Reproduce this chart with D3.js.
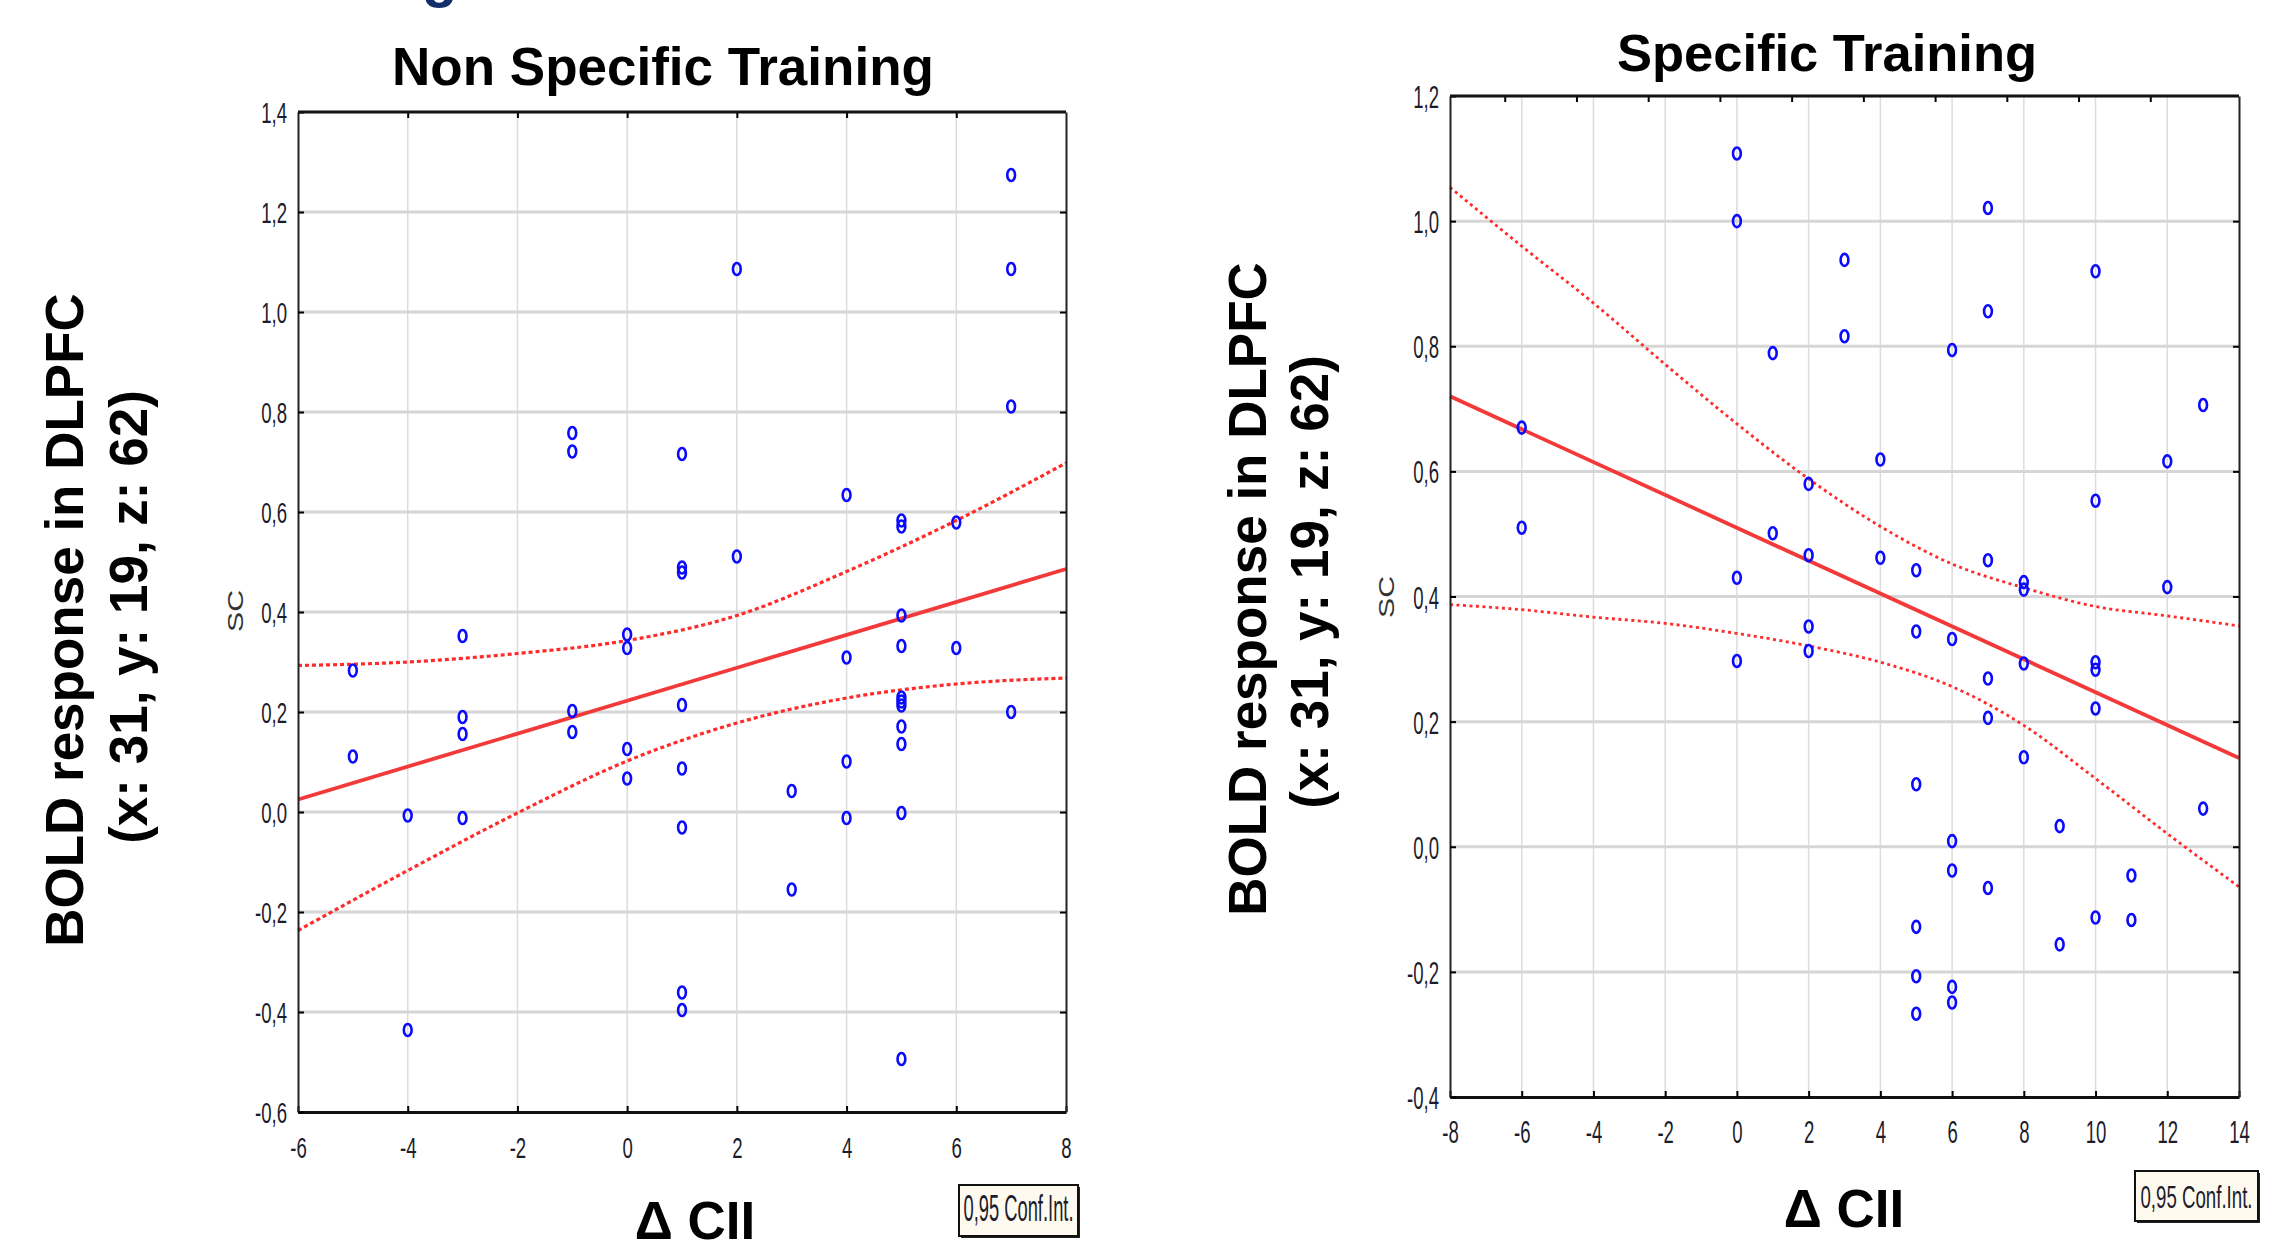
<!DOCTYPE html>
<html>
<head>
<meta charset="utf-8">
<script src="https://cdn.jsdelivr.net/npm/d3@7"></script>
<style>
  body { margin: 0; background: #fff; }
  text { font-family: "Liberation Sans", Arial, sans-serif; }
</style>
</head>
<body>
<svg id="chart" width="2288" height="1241"></svg>
<script>
//======== data ========//

// Non Specific Training : Δ CII vs BOLD response
const nsCII = [7, 2, 7, 7, -1, -1, 1, 4, 5, 5, 6, 1, 1, 2, 5, -5, -3, 0, 0, 5, 6, 4, 1, -1, -3, 5, 5, 5, 7,
  -3, -1, 5, 5, -5, 0, 4, 1, 0, 3, -4, -3, 4, 5, 1, 3, 1, 1, -4, 5]
const nsBold = [1.274, 1.086, 1.086, 0.811, 0.758, 0.721, 0.716, 0.634, 0.583, 0.571, 0.579, 0.489, 0.479, 0.511,
  0.393, 0.283, 0.352, 0.355, 0.328, 0.332, 0.328, 0.309, 0.214, 0.202, 0.19, 0.229, 0.221, 0.213, 0.2,
  0.156, 0.16, 0.171, 0.136, 0.111, 0.126, 0.101, 0.087, 0.067, 0.042, -0.007, -0.012, -0.012, -0.002,
  -0.031, -0.155, -0.361, -0.396, -0.436, -0.494]
const nsXTicks = [-6, -4, -2, 0, 2, 4, 6, 8]
const nsYTicks = [-0.6, -0.4, -0.2, 0, 0.2, 0.4, 0.6, 0.8, 1.0, 1.2, 1.4]
const nsFitX = [-6, 8]
const nsFitY = [0.025, 0.486]
const nsCiX = [-6, -4, -2, 0, 2, 4, 6, 8]
const nsCiUpper = [0.293, 0.300, 0.317, 0.343, 0.393, 0.481, 0.583, 0.698]
const nsCiLower = [-0.237, -0.117, -0.002, 0.102, 0.178, 0.228, 0.256, 0.268]

// Specific Training
const spCII = [0, 0, 7, 3, 10, 7, 3, 1, 6, 13, -6, 4, 12, 2, 10, -6, 1, 2, 4, 7, 5, 0, 8, 8, 12,
  2, 5, 6, 2, 0, 8, 10, 10, 7, 10, 7, 8, 5, 13, 9, 6, 6, 11, 7, 10, 11, 5, 9, 5, 6, 6, 5]
const spBold = [1.108, 1.0, 1.021, 0.938, 0.92, 0.856, 0.816, 0.789, 0.794, 0.706, 0.67, 0.619, 0.616, 0.58,
  0.553, 0.51, 0.501, 0.466, 0.462, 0.458, 0.442, 0.43, 0.423, 0.411, 0.415,
  0.352, 0.344, 0.332, 0.313, 0.297, 0.293, 0.295, 0.283, 0.269, 0.221, 0.206, 0.143, 0.1, 0.061, 0.033,
  0.009, -0.038, -0.046, -0.066, -0.113, -0.117, -0.128, -0.156, -0.207, -0.224, -0.249, -0.267]
const spXTicks = [-8, -6, -4, -2, 0, 2, 4, 6, 8, 10, 12, 14]
const spYTicks = [-0.4, -0.2, 0, 0.2, 0.4, 0.6, 0.8, 1.0, 1.2]
const spFitX = [-8, 14]
const spFitY = [0.720, 0.142]
const spCiX = [-8, -6, -4, -2, 0, 2, 4, 6, 8, 10, 12, 14]
const spCiUpper = [1.054, 0.960, 0.869, 0.771, 0.676, 0.588, 0.512, 0.452, 0.414, 0.384, 0.369, 0.353]
const spCiLower = [0.387, 0.379, 0.367, 0.357, 0.341, 0.321, 0.295, 0.256, 0.194, 0.109, 0.021, -0.064]

const yLabelLines = ['BOLD response in DLPFC', '(x: 31, y: 19, z: 62)']
const xLabel = 'Δ CII'
const legendText = '0,95 Conf.Int.'

//======== layout ========//
const panels = [
  {
    title: 'Non Specific Training', xs: nsCII, ys: nsBold, xTicks: nsXTicks, yTicks: nsYTicks,
    fitX: nsFitX, fitY: nsFitY, ciX: nsCiX, upper: nsCiUpper, lower: nsCiLower,
    left: 298, right: 1066, top: 112, bottom: 1112,
    titleX: 663, titleY: 85, titleSize: 53,
    yLab: [{ x: 83, y: 620 }, { x: 147, y: 617 }], sc: { x: 243, y: 611 },
    xLab: { x: 695, y: 1239 },
    legend: { x: 959, y: 1185, w: 119, h: 51, base: 1221, size: 36, len: 110 },
    tickSize: 30, tickSx: 0.62, topShift: 0, dash: '4,3', dashW: 3.2
  },
  {
    title: 'Specific Training', xs: spCII, ys: spBold, xTicks: spXTicks, yTicks: spYTicks,
    fitX: spFitX, fitY: spFitY, ciX: spCiX, upper: spCiUpper, lower: spCiLower,
    left: 1450, right: 2239, top: 96, bottom: 1097,
    titleX: 1827, titleY: 71, titleSize: 52.5,
    yLab: [{ x: 1266, y: 589 }, { x: 1328, y: 582 }], sc: { x: 1394, y: 597 },
    xLab: { x: 1844, y: 1227 },
    legend: { x: 2135, y: 1171, w: 123, h: 50, base: 1208, size: 31, len: 112 },
    tickSize: 32, tickSx: 0.58, topShift: -17, dash: '3,3.5', dashW: 2.8
  }
]

const svg = d3.select('#chart')
svg.append('rect').attr('width', 2288).attr('height', 1241).attr('fill', '#fff')

// bit of a cropped heading above the left title
svg.append('text')
  .attr('x', 422).attr('y', -4)
  .attr('font-size', 58).attr('font-weight', 'bold')
  .attr('fill', '#112d6c')
  .text('g')

const fmtY = d => d3.format('.1f')(d).replace('.', ',').replace('−', '-')
const fmtX = d => String(d)

panels.forEach(p => {
  const x = d3.scaleLinear().domain(d3.extent(p.xTicks)).range([p.left, p.right])
  const y = d3.scaleLinear().domain(d3.extent(p.yTicks)).range([p.bottom, p.top])
  const g = svg.append('g')

  // grid
  g.selectAll('line.vgrid')
    .data(p.xTicks.slice(1, -1))
    .join('line')
    .attr('x1', d => x(d)).attr('x2', d => x(d))
    .attr('y1', p.top).attr('y2', p.bottom)
    .attr('stroke', '#dcdcdc').attr('stroke-width', 1.5)

  g.selectAll('line.hgrid')
    .data(p.yTicks.slice(1, -1))
    .join('line')
    .attr('x1', p.left).attr('x2', p.right)
    .attr('y1', d => y(d)).attr('y2', d => y(d))
    .attr('stroke', '#d6d6d6').attr('stroke-width', 3)

  // confidence band and fit
  const band = d3.line().x(d => x(d[0])).y(d => y(d[1])).curve(d3.curveMonotoneX)
  ;[p.upper, p.lower].forEach(vals => {
    g.append('path')
      .attr('d', band(p.ciX.map((v, i) => [v, vals[i]])))
      .attr('fill', 'none')
      .attr('stroke', '#ff2a2a')
      .attr('stroke-width', p.dashW)
      .attr('stroke-dasharray', p.dash)
  })

  g.append('path')
    .attr('d', band(p.fitX.map((v, i) => [v, p.fitY[i]])))
    .attr('fill', 'none')
    .attr('stroke', '#f23a3a')
    .attr('stroke-width', 3.8)

  // points
  g.selectAll('ellipse')
    .data(p.xs.map((v, i) => [v, p.ys[i]]))
    .join('ellipse')
    .attr('cx', d => x(d[0]))
    .attr('cy', d => y(d[1]))
    .attr('rx', 3.9).attr('ry', 6)
    .attr('fill', 'none')
    .attr('stroke', '#0a0aff')
    .attr('stroke-width', 2.6)

  // axes, ticks pointing inside
  const bottom = g.append('g')
    .attr('transform', `translate(0,${p.bottom})`)
    .call(d3.axisBottom(x).tickValues(p.xTicks).tickSizeInner(-6).tickSizeOuter(0).tickFormat(fmtX))
  const leftAx = g.append('g')
    .attr('transform', `translate(${p.left},0)`)
    .call(d3.axisLeft(y).tickValues(p.yTicks).tickSizeInner(-6).tickSizeOuter(0).tickFormat(fmtY))
  const topAx = g.append('g')
    .attr('transform', `translate(${p.topShift},${p.top})`)
    .call(d3.axisTop(x).tickValues(p.xTicks.slice(1, -1)).tickSizeInner(-6).tickSizeOuter(0).tickFormat(''))
  const rightAx = g.append('g')
    .attr('transform', `translate(${p.right},0)`)
    .call(d3.axisRight(y).tickValues(p.yTicks.slice(1, -1)).tickSizeInner(-6).tickSizeOuter(0).tickFormat(''))

  ;[bottom, leftAx, topAx, rightAx].forEach(a => {
    a.selectAll('.tick line').attr('stroke', '#000').attr('stroke-width', 2)
  })
  topAx.select('.domain').remove()
  g.append('line')
    .attr('x1', p.left).attr('x2', p.right).attr('y1', p.top).attr('y2', p.top)
    .attr('stroke', '#111').attr('stroke-width', 3)
  bottom.select('.domain').attr('stroke', '#111').attr('stroke-width', 3)
  leftAx.select('.domain').attr('stroke', '#222').attr('stroke-width', 2)
  rightAx.select('.domain').attr('stroke', '#222').attr('stroke-width', 2)

  bottom.selectAll('.tick text')
    .attr('y', 46).attr('dy', 0)
    .attr('font-size', p.tickSize)
    .attr('font-family', '"Liberation Sans", Arial, sans-serif')
    .attr('fill', '#1c1c2c')
    .attr('transform', `scale(${p.tickSx},1)`)
  leftAx.selectAll('.tick text')
    .attr('x', -11 / p.tickSx).attr('dy', '0.36em')
    .attr('font-size', p.tickSize)
    .attr('font-family', '"Liberation Sans", Arial, sans-serif')
    .attr('fill', '#1c1c2c')
    .attr('transform', `scale(${p.tickSx},1)`)

  // titles and labels
  g.append('text')
    .attr('x', p.titleX).attr('y', p.titleY)
    .attr('text-anchor', 'middle')
    .attr('font-size', p.titleSize).attr('font-weight', 'bold')
    .text(p.title)

  yLabelLines.forEach((t, i) => {
    g.append('text')
      .attr('transform', `translate(${p.yLab[i].x},${p.yLab[i].y}) rotate(-90)`)
      .attr('text-anchor', 'middle')
      .attr('font-size', 53).attr('font-weight', 'bold')
      .text(t)
  })

  g.append('text')
    .attr('transform', `translate(${p.sc.x},${p.sc.y}) rotate(-90)`)
    .attr('text-anchor', 'middle')
    .attr('font-size', 22)
    .attr('textLength', 42).attr('lengthAdjust', 'spacingAndGlyphs')
    .attr('fill', '#333')
    .text('SC')

  g.append('text')
    .attr('x', p.xLab.x).attr('y', p.xLab.y)
    .attr('text-anchor', 'middle')
    .attr('font-size', 53).attr('font-weight', 'bold')
    .text(xLabel)

  // legend box
  const L = p.legend
  g.append('rect')
    .attr('x', L.x + 2).attr('y', L.y + 2).attr('width', L.w).attr('height', L.h)
    .attr('fill', '#222')
  g.append('rect')
    .attr('x', L.x).attr('y', L.y).attr('width', L.w).attr('height', L.h)
    .attr('fill', '#fffaef').attr('stroke', '#111').attr('stroke-width', 2)
  g.append('text')
    .attr('x', L.x + L.w / 2).attr('y', L.base)
    .attr('text-anchor', 'middle')
    .attr('font-size', L.size)
    .attr('textLength', L.len).attr('lengthAdjust', 'spacingAndGlyphs')
    .attr('fill', '#1c1c2c')
    .text(legendText)
})
</script>
</body>
</html>
